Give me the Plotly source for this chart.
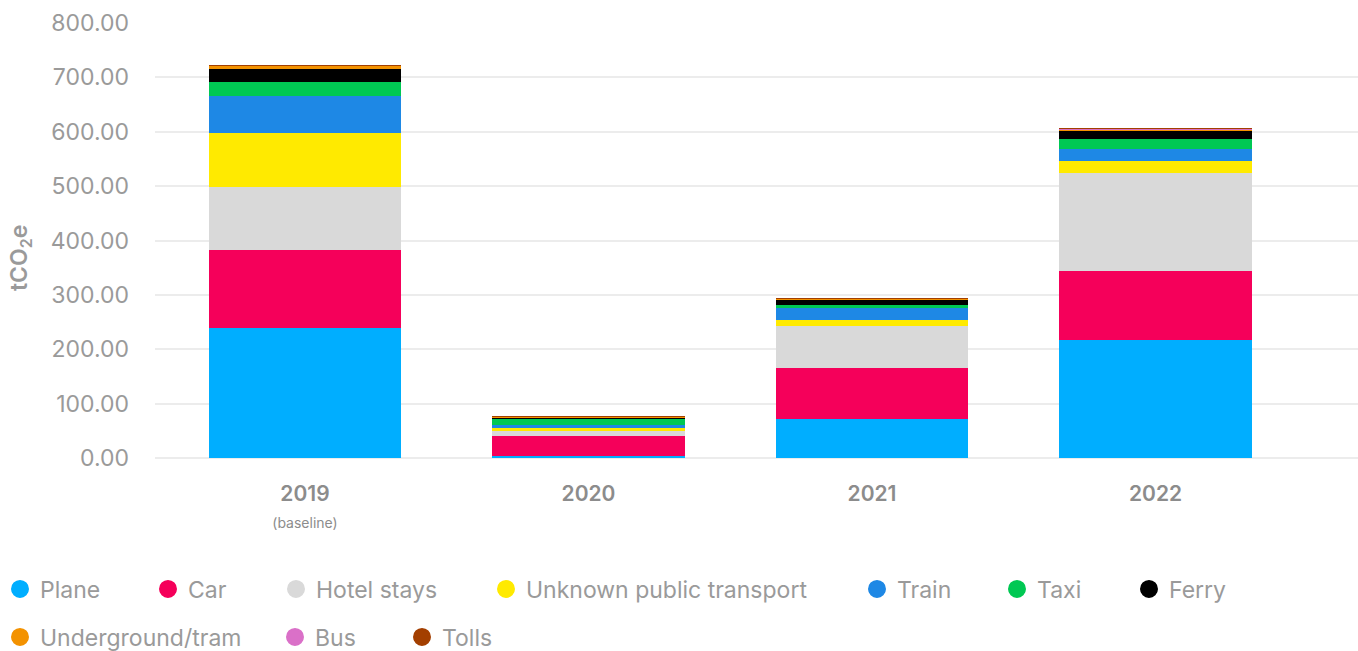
import plotly.graph_objects as go

# Travel emissions by year and mode (tCO2e)
years = ["2019", "2020", "2021", "2022"]
year_ticktext = [
    "2019<br><span style='font-size:14px;font-weight:400'>(baseline)</span>",
    "2020", "2021", "2022",
]
y_tickvals = [0, 100, 200, 300, 400, 500, 600, 700, 800]

plane = [239, 4, 72, 217]
car = [144, 36, 94, 127]
hotel_stays = [115, 9, 76, 180]
unknown_public_transport = [99, 7.5, 11, 22]
train = [69, 3.5, 22, 23]
taxi = [26, 12, 7, 18]
ferry = [24, 2.5, 9, 15]
underground_tram = [5, 2, 1.5, 3]
bus = [0.3, 0.1, 0.1, 0.2]
tolls = [0.2, 0.1, 0.1, 0.1]

series_names = ["Plane", "Car", "Hotel stays", "Unknown public transport", "Train",
                "Taxi", "Ferry", "Underground/tram", "Bus", "Tolls"]
series_values = [plane, car, hotel_stays, unknown_public_transport, train,
                 taxi, ferry, underground_tram, bus, tolls]
series_colors = ["#00AEFF", "#F5005A", "#D9D9D9", "#FFEA00", "#1E88E5",
                 "#00C853", "#000000", "#F39200", "#DA70C8", "#A33F00"]

# legend entry placement (marker centre in px, row centre in px)
legend_slots = [(18, 589), (168, 589), (296, 589), (506, 589), (877, 589),
                (1017, 589), (1149, 589), (18, 637), (295, 637), (422, 637)]

W, H = 1358, 651
FONT = "Inter"
GREY = "#9a9a9a"

fig = go.Figure()
for name, vals, color in zip(series_names, series_values, series_colors):
    fig.add_trace(go.Bar(
        x=years, y=vals, name=name, marker=dict(color=color, line=dict(width=0)),
        width=0.68, showlegend=False,
    ))

legends = {}
for i, (name, color, (cx, cy)) in enumerate(zip(series_names, series_colors, legend_slots)):
    key = "legend" if i == 0 else f"legend{i + 1}"
    fig.add_trace(go.Scatter(
        x=[None], y=[None], mode="markers", name=name, legend=key,
        marker=dict(symbol="circle", size=16, color=color, line=dict(width=2, color=color)),
    ))
    legends[key] = dict(
        orientation="h", xref="container", yref="container",
        x=(cx - 20) / W, xanchor="left", y=1 - cy / H, yanchor="middle",
        font=dict(family=FONT, size=23, color=GREY),
        itemclick=False, itemdoubleclick=False, bgcolor="rgba(0,0,0,0)",
        borderwidth=0,
    )

fig.update_layout(
    barmode="stack",
    width=W, height=H,
    margin=dict(l=155, r=0, t=23, b=193, autoexpand=False),
    paper_bgcolor="white", plot_bgcolor="white",
    bargap=0,
    font=dict(family=FONT, color=GREY),
    xaxis=dict(
        range=[-0.529, 3.714], tickvals=years, ticktext=year_ticktext,
        tickfont=dict(family=FONT, size=21, color="#8c8c8c", weight=600),
        showgrid=False, zeroline=False, showline=False, ticks="",
        ticklabelstandoff=21, automargin=False,
    ),
    yaxis=dict(
        range=[0, 800], tickvals=y_tickvals, tickformat=".2f",
        tickfont=dict(family=FONT, size=23, color=GREY),
        showgrid=True, gridcolor="#ececec", gridwidth=2,
        zeroline=True, zerolinecolor="#ececec", zerolinewidth=2,
        showline=False, ticks="", ticklabelstandoff=25, automargin=False,
    ),
    annotations=[dict(
        text="tCO<sub>2</sub>e", textangle=-90, showarrow=False,
        xref="paper", yref="paper", x=(20 - 155) / 1203, y=(458 - 258) / 435,
        xanchor="center", yanchor="middle",
        font=dict(family=FONT, size=23, color=GREY, weight=600),
    )],
)
fig.update_layout(**legends)

fig.write_html("out.html")
